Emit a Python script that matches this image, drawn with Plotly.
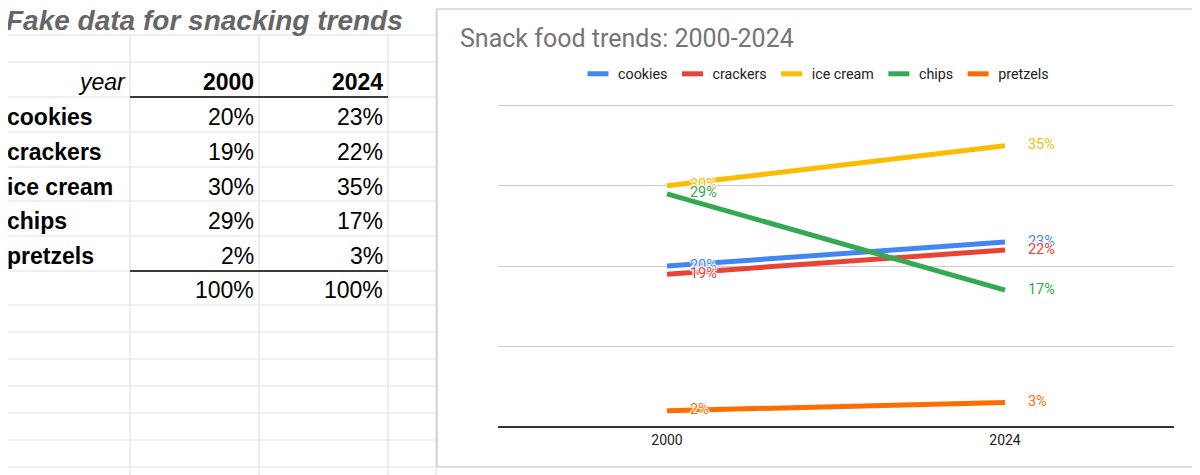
import plotly.graph_objects as go

# ---------------- data ----------------
years = ["2000", "2024"]
snacks = ["cookies", "crackers", "ice cream", "chips", "pretzels"]
share_2000 = [20, 19, 30, 29, 2]
share_2024 = [23, 22, 35, 17, 3]
colors = ["#4285F4", "#EA4335", "#FBBC04", "#34A853", "#FF6D01"]
sheet_title = "Fake data for snacking trends"
chart_title = "Snack food trends: 2000-2024"
year_header = "year"

# ---------------- layout helpers ----------------
# the page body has an 8px margin, so the figure is 8px smaller and coordinates are shifted
OFF = 8
W, H = 1200 - OFF, 475 - OFF


def px(x):
    return (x - OFF) / W


def py(y):
    return 1 - (y - OFF) / H


FONT_SHEET = "Liberation Sans, Arial, sans-serif"
FONT_CHART = "Roboto, Arial, sans-serif"
HALO = "1px 1px 1px #fff, -1px -1px 1px #fff, 1px -1px 1px #fff, -1px 1px 1px #fff, 0 0 2px #fff"

# y axis geometry: value 0 at pixel 426.7, value 40 at pixel 105.5; range padded so top grid shows
Y_MAX, Y_PAD = 40, 0.25
unit = (426.7 - 105.5) / Y_MAX
y_dom_top_px = 105.5 - Y_PAD * unit

fig = go.Figure()

# line traces
for name, a, b, c in zip(snacks, share_2000, share_2024, colors):
    fig.add_trace(go.Scatter(
        x=years, y=[a, b], mode="lines", name=name,
        line=dict(color=c, width=5), showlegend=False, hoverinfo="skip",
    ))

# data labels (on top of lines)
for name, a, b, c in zip(snacks, share_2000, share_2024, colors):
    fig.add_trace(go.Scatter(
        x=years, y=[a, b], mode="markers+text",
        marker=dict(size=35, opacity=0, color=c),
        text=[f"{a}%", f"{b}%"], textposition="middle right",
        textfont=dict(color=c, size=14.5, family=FONT_CHART, shadow=HALO),
        showlegend=False, hoverinfo="skip",
    ))

# legend entries
for name, c in zip(snacks, colors):
    fig.add_trace(go.Scatter(
        x=[None], y=[None], mode="markers", name=name,
        marker=dict(symbol="line-ew", size=15, color=c, line=dict(color=c, width=5)),
    ))

shapes = []
annotations = []

# ---------------- spreadsheet background ----------------
grid_c = "#e2e2e2"
row_lines = [35, 62, 97, 132, 167, 201, 236, 271, 305, 332, 359, 386, 413, 440, 467]
for yy in row_lines:
    shapes.append(dict(type="line", xref="paper", yref="paper", x0=px(3), x1=px(437),
                       y0=py(yy), y1=py(yy), line=dict(color=grid_c, width=1.2), layer="below"))
for xx in [130, 259, 388]:
    shapes.append(dict(type="line", xref="paper", yref="paper", x0=px(xx), x1=px(xx),
                       y0=py(35), y1=py(475), line=dict(color=grid_c, width=1.2), layer="below"))
shapes.append(dict(type="line", xref="paper", yref="paper", x0=px(436), x1=px(436),
                   y0=py(0), y1=py(475), line=dict(color=grid_c, width=1.2), layer="below"))
# black borders of the table
for yy in [97, 271]:
    shapes.append(dict(type="line", xref="paper", yref="paper", x0=px(130), x1=px(388),
                       y0=py(yy), y1=py(yy), line=dict(color="#000", width=1.6), layer="below"))

# chart box
shapes.append(dict(type="rect", xref="paper", yref="paper", x0=px(437), x1=px(1198),
                   y0=py(467), y1=py(9), fillcolor="#ffffff",
                   line=dict(color="#bdbdbd", width=1), layer="below"))

# ---------------- spreadsheet text ----------------
sheet_font = dict(family=FONT_SHEET, size=23, color="#000")
annotations.append(dict(text=f"<b><i>{sheet_title}</i></b>", xref="paper", yref="paper",
                        x=px(4), y=py(21), xanchor="left", yanchor="middle", showarrow=False,
                        font=dict(family=FONT_SHEET, size=28, color="#666666")))
header_y = 82
row_y = [117, 152, 187, 221, 256]
total_y = 290
col_a_x, col_b_x, col_c_x = 5, 256, 385
annotations.append(dict(text=f"<i>{year_header}</i>", xref="paper", yref="paper",
                        x=px(128), y=py(header_y), xanchor="right", yanchor="middle",
                        showarrow=False, font=sheet_font))
for xx, yr in zip([col_b_x, col_c_x], years):
    annotations.append(dict(text=f"<b>{yr}</b>", xref="paper", yref="paper",
                            x=px(xx), y=py(header_y), xanchor="right", yanchor="middle",
                            showarrow=False, font=sheet_font))
for yy, name, a, b in zip(row_y, snacks, share_2000, share_2024):
    annotations.append(dict(text=f"<b>{name}</b>", xref="paper", yref="paper",
                            x=px(col_a_x), y=py(yy), xanchor="left", yanchor="middle",
                            showarrow=False, font=sheet_font))
    for xx, v in zip([col_b_x, col_c_x], [a, b]):
        annotations.append(dict(text=f"{v}%", xref="paper", yref="paper",
                                x=px(xx), y=py(yy), xanchor="right", yanchor="middle",
                                showarrow=False, font=sheet_font))
for xx, vals in zip([col_b_x, col_c_x], [share_2000, share_2024]):
    annotations.append(dict(text=f"{sum(vals)}%", xref="paper", yref="paper",
                            x=px(xx), y=py(total_y), xanchor="right", yanchor="middle",
                            showarrow=False, font=sheet_font))

# leader lines for right-hand labels
for b in share_2024:
    annotations.append(dict(x=years[1], y=b, xref="x", yref="y", text="", showarrow=True,
                            ax=18, ay=0, arrowhead=0, arrowwidth=1, arrowcolor="#e0e0e0",
                            standoff=0, startstandoff=0))

fig.update_layout(
    width=W, height=H,
    margin=dict(l=0, r=0, t=0, b=0),
    paper_bgcolor="#ffffff", plot_bgcolor="rgba(0,0,0,0)",
    title=dict(text=chart_title, x=px(460), xanchor="left", y=py(38), yanchor="middle",
               xref="paper", yref="paper",
               font=dict(family=FONT_CHART, size=25, color="#757575")),
    legend=dict(orientation="h", x=px(816), xanchor="center", y=py(74), yanchor="middle",
                font=dict(family=FONT_CHART, size=14.3, color="#222222"),
                bgcolor="rgba(0,0,0,0)"),
    xaxis=dict(domain=[px(498), px(1174)], type="category", categoryorder="array",
               categoryarray=years, range=[-0.5, 1.5], showgrid=False, showline=False,
               zeroline=False, ticks="", ticklabelstandoff=3,
               tickfont=dict(family=FONT_CHART, size=14, color="#222222"),
               fixedrange=True),
    yaxis=dict(domain=[py(426.7), py(y_dom_top_px)], range=[0, Y_MAX + Y_PAD], dtick=10,
               showticklabels=False,
               showgrid=True, gridcolor="#cccccc", gridwidth=1, zeroline=True,
               zerolinecolor="#333333", zerolinewidth=1.5, showline=False, ticks="",
               fixedrange=True),
    shapes=shapes,
    annotations=annotations,
    showlegend=True,
)

fig.write_html("out.html")
